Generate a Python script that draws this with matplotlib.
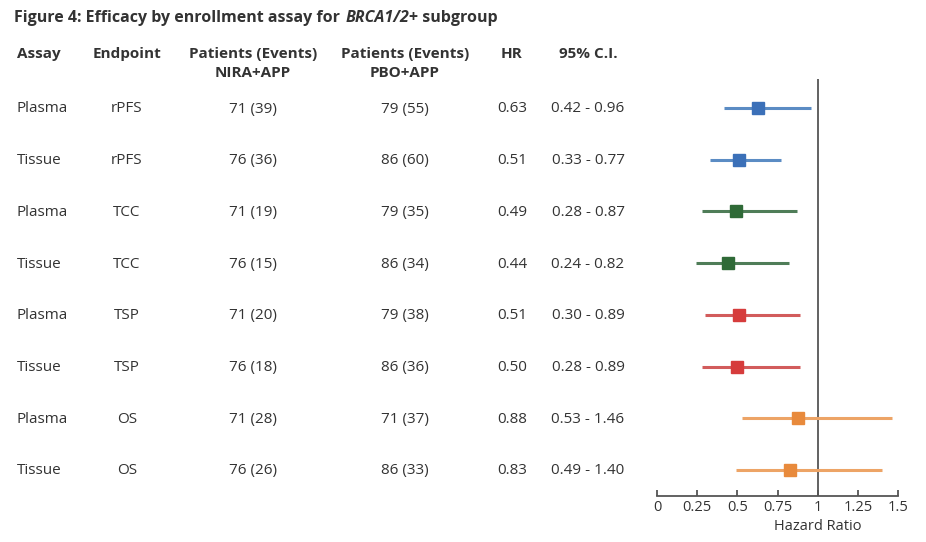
import numpy as np
import matplotlib.pyplot as plt

plt.rcParams['font.family'] = ['Open Sans', 'DejaVu Sans']

assays = ["Plasma", "Tissue", "Plasma", "Tissue", "Plasma", "Tissue", "Plasma", "Tissue"]
endpoints = ["rPFS", "rPFS", "TCC", "TCC", "TSP", "TSP", "OS", "OS"]
nira_app = ["71 (39)", "76 (36)", "71 (19)", "76 (15)", "71 (20)", "76 (18)", "71 (28)", "76 (26)"]
pbo_app = ["79 (55)", "86 (60)", "79 (35)", "86 (34)", "79 (38)", "86 (36)", "71 (37)", "86 (33)"]
hr = [0.63, 0.51, 0.49, 0.44, 0.51, 0.50, 0.88, 0.83]
ci_low = [0.42, 0.33, 0.28, 0.24, 0.30, 0.28, 0.53, 0.49]
ci_high = [0.96, 0.77, 0.87, 0.82, 0.89, 0.89, 1.46, 1.40]
ticks = [0, 0.25, 0.5, 0.75, 1, 1.25, 1.5]
tick_labels = ["0", "0.25", "0.5", "0.75", "1", "1.25", "1.5"]

box_colors = ["#3b70b8", "#3b70b8", "#2f6a37", "#2f6a37", "#d63c3c", "#d63c3c", "#e88a3c", "#e88a3c"]
line_colors = ["#5b8cc4", "#5b8cc4", "#4f7d58", "#4f7d58", "#d25c5c", "#d25c5c", "#eda466", "#eda466"]

W, H = 926, 542
fig = plt.figure(figsize=(W / 100, H / 100), dpi=100)

# forest axes placed in pixel terms
x0, x1 = 657, 898
ytop, ybot = 79, 496
ax = fig.add_axes([x0 / W, 1 - ybot / H, (x1 - x0) / W, (ybot - ytop) / H])
row0, step = 108, 51.7
ax.set_ylim((ybot - row0) / step, (ytop - row0) / step)
ax.set_xlim(0, 1.5)

n = len(hr)
ys = np.arange(n)
for i in range(n):
    ax.plot([ci_low[i], ci_high[i]], [ys[i], ys[i]], color=line_colors[i], lw=2.2,
            solid_capstyle='butt', zorder=2)
    ax.plot(hr[i], ys[i], marker='s', ms=8.5, color=box_colors[i], zorder=3)
ax.axvline(1, color='#555555', lw=1.3, zorder=1)

for s in ['top', 'right', 'left']:
    ax.spines[s].set_visible(False)
ax.spines['bottom'].set_color('#555555')
ax.spines['bottom'].set_linewidth(1.3)
ax.set_yticks([])
ax.set_xticks(ticks)
ax.set_xticklabels(tick_labels)
ax.tick_params(axis='x', direction='in', length=4, width=1.3, color='#555555',
               labelsize=10.5, labelcolor='#333333', pad=3)

# table text in figure pixels
txt = '#333333'
def ftext(x, y, s, **kw):
    return fig.text(x / W, 1 - y / H, s, color=txt, va='center', **kw)

# x position of HR = 1 in pixels
hr1_px = x0 + (x1 - x0) * (1 - 0) / 1.5
ftext(hr1_px, 526, "Hazard Ratio", ha='center', fontsize=10.5)

# title with italic gene name
t = ftext(14, 18, "Figure 4: Efficacy by enrollment assay for ", fontsize=11.5, fontweight='bold')
fig.canvas.draw()
bb = t.get_window_extent()
t2 = ftext(bb.x1 + 1, 18, "BRCA1/2", fontsize=11.5, fontweight='bold', style='italic')
fig.canvas.draw()
bb2 = t2.get_window_extent()
ftext(bb2.x1, 18, "+ subgroup", fontsize=11.5, fontweight='bold')

hdr = dict(fontsize=11, fontweight='bold')
ftext(17, 54, "Assay", ha='left', **hdr)
ftext(127, 54, "Endpoint", ha='center', **hdr)
ftext(253, 54, "Patients (Events)", ha='center', **hdr)
ftext(253, 73, "NIRA+APP", ha='center', **hdr)
ftext(405, 54, "Patients (Events)", ha='center', **hdr)
ftext(405, 73, "PBO+APP", ha='center', **hdr)
ftext(512, 54, "HR", ha='center', **hdr)
ftext(588, 54, "95% C.I.", ha='center', **hdr)

body = dict(fontsize=11)
for i in range(n):
    y = row0 + step * i + 1
    ftext(17, y, assays[i], ha='left', **body)
    ftext(127, y, endpoints[i], ha='center', **body)
    ftext(253, y, nira_app[i], ha='center', **body)
    ftext(405, y, pbo_app[i], ha='center', **body)
    ftext(512, y, f"{hr[i]:.2f}", ha='center', **body)
    ftext(588, y, f"{ci_low[i]:.2f} - {ci_high[i]:.2f}", ha='center', **body)

fig.savefig("out.png", dpi=100)
